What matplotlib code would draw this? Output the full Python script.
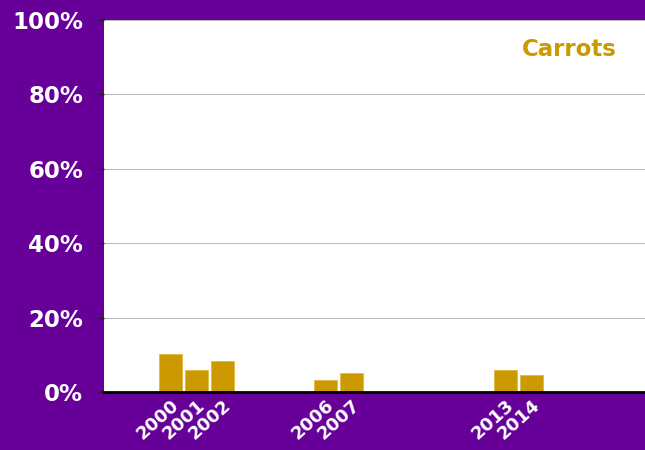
import matplotlib
matplotlib.use("Agg")
import matplotlib.pyplot as plt
from matplotlib.ticker import FuncFormatter

PURPLE = "#660099"
GOLD = "#CC9900"

years = [2000, 2001, 2002, 2006, 2007, 2013, 2014]
shares = [10.1, 6.0, 8.2, 3.2, 5.1, 6.0, 4.5]
y_ticks = [0, 20, 40, 60, 80, 100]
title = "Carrots"

fig = plt.figure(figsize=(6.45, 4.5), dpi=100, facecolor=PURPLE)
ax = fig.add_axes([0.161, 0.129, 0.839, 0.827])
ax.set_facecolor("white")

ax.bar(years, shares, width=0.9, color=GOLD, edgecolor="#E0B840", linewidth=0.6, zorder=3)

ax.set_xlim(1997.4, 2018.4)
ax.set_ylim(0, 100)
ax.set_yticks(y_ticks)
ax.yaxis.set_major_formatter(FuncFormatter(lambda v, _: f"{v:.0f}%"))
ax.grid(axis="y", color="#BBBBBB", linewidth=0.8, zorder=0)

ax.set_xticks(years)
ax.set_xticklabels([str(y) for y in years], rotation=42, ha="right", va="top",
                   rotation_mode="anchor", fontsize=13, fontweight="bold", color="white")
ax.tick_params(axis="x", length=0, pad=3)
ax.tick_params(axis="y", length=4, width=1, color="#222222", pad=11,
               labelsize=16.5, labelcolor="white")
for lbl in ax.get_yticklabels():
    lbl.set_fontweight("bold")

for side in ["top", "right", "left"]:
    ax.spines[side].set_visible(False)
ax.spines["bottom"].set_color("black")
ax.spines["bottom"].set_linewidth(2)
ax.spines["bottom"].set_zorder(4)

ax.text(0.948, 0.92, title, transform=ax.transAxes, ha="right", va="center",
        fontsize=16.5, fontweight="bold", color=GOLD)

fig.savefig("out.png", dpi=100, facecolor=PURPLE)
